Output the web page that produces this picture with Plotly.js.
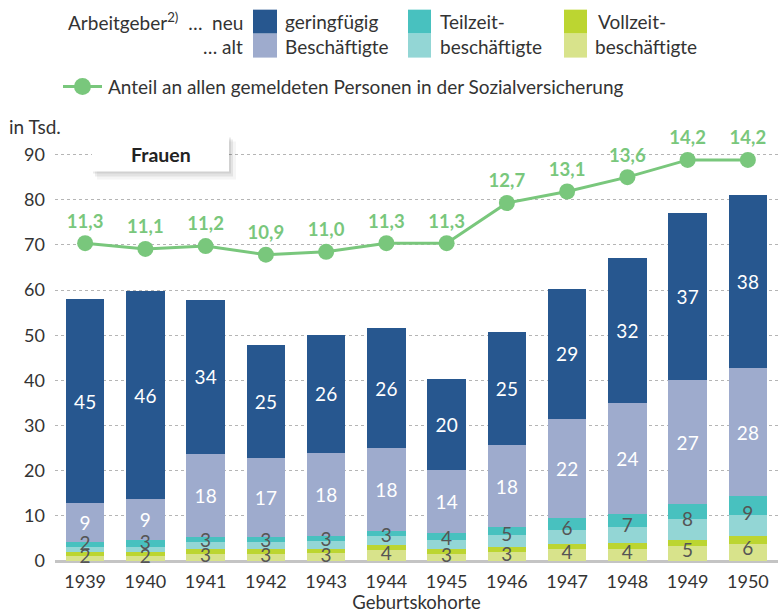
<!DOCTYPE html>
<html><head><meta charset="utf-8">
<script src="https://cdn.plot.ly/plotly-3.0.1.min.js"></script>
<style>body{margin:0;background:#fff}#chart{width:778px;height:613px}</style>
</head><body><div id="chart"></div>
<script>
const years = ['1939','1940','1941','1942','1943','1944','1945','1946','1947','1948','1949','1950'];
const vzAlt = [1.2,1.2,1.6,1.6,1.75,2.4,1.6,2.0,2.7,2.65,3.4,3.8];
const vzNeu = [0.9,0.9,1.0,1.0,1.0,1.1,1.0,1.0,1.0,1.3,1.2,1.8];
const tzAlt = [0.9,1.1,1.5,1.5,1.6,2.0,2.1,2.8,3.1,3.55,4.6,4.5];
const tzNeu = [1.3,1.5,1.3,1.2,1.2,1.2,1.5,1.8,2.7,3.0,3.4,4.3];
const gfAlt = [8.5,9.0,18.4,17.4,18.3,18.3,13.9,18.0,21.9,24.4,27.4,28.3];
const gfNeu = [45.2,46.0,33.9,25.1,26.3,26.5,20.1,25.0,28.9,32.3,37.1,38.4];
const vzLabels = ['2','2','3','3','3','4','3','3','4','4','5','6'];
const tzLabels = ['2','3','3','3','3','3','4','5','6','7','8','9'];
const gfAltLabels = ['9','9','18','17','18','18','14','18','22','24','27','28'];
const gfNeuLabels = ['45','46','34','25','26','26','20','25','29','32','37','38'];
const share = [11.3,11.1,11.2,10.9,11.0,11.3,11.3,12.7,13.1,13.6,14.2,14.2];

const C = {gfNeu:'#27578f', gfAlt:'#9eabcd', tzNeu:'#48c1bf', tzAlt:'#93d6d5', vzNeu:'#bcd531', vzAlt:'#d8e38b', line:'#79c77c'};
const FONT = 'Lato, "Open Sans", sans-serif';

// plot-area geometry helpers (layout only)
const L = 55, R = 778, T = 140.5, B = 561;
const px = x => (x - L) / (R - L);
const py = y => (B - y) / (B - T);

function bar(vals, color, name, text, tcolor){
  const t = {type:'bar', x:years, y:vals, name:name, marker:{color:color, line:{width:0}}, hoverinfo:'skip', showlegend:false};
  if (text){ t.text = text; t.textposition='inside'; t.insidetextanchor='middle'; t.textangle=0; t.textfont={color:tcolor, size:19, family:FONT}; t.constraintext='none'; }
  else { t.textposition='none'; }
  return t;
}
const vzTot = vzAlt.map((v,i)=>v+vzNeu[i]);
const tzTot = tzAlt.map((v,i)=>v+tzNeu[i]);
const vzMid = vzTot.map(v=>v/2 - 0.45);
const tzMid = tzTot.map((v,i)=>vzTot[i]+v/2 + 0.2);

const traces = [
  bar(vzAlt, C.vzAlt, 'VZ alt'),
  bar(vzNeu, C.vzNeu, 'VZ neu'),
  bar(tzAlt, C.tzAlt, 'TZ alt'),
  bar(tzNeu, C.tzNeu, 'TZ neu'),
  bar(gfAlt, C.gfAlt, 'GF alt', gfAltLabels, '#ffffff'),
  bar(gfNeu, C.gfNeu, 'GF neu', gfNeuLabels, '#ffffff'),
  {type:'scatter', mode:'text', x:years, y:vzMid, text:vzLabels, textposition:'middle center', cliponaxis:false, textfont:{color:'#555555', size:19, family:FONT}, hoverinfo:'skip', showlegend:false},
  {type:'scatter', mode:'text', x:years, y:tzMid, text:tzLabels, textposition:'middle center', cliponaxis:false, textfont:{color:'#555555', size:19, family:FONT}, hoverinfo:'skip', showlegend:false},
  {type:'scatter', mode:'lines+markers+text', x:years, y:share, yaxis:'y2', cliponaxis:false,
   line:{color:C.line, width:3}, marker:{color:C.line, size:16},
   texttemplate:'%{y:.1f}', textposition:'top center',
   textfont:{color:C.line, size:18.5, family:FONT, weight:'bold'}, hoverinfo:'skip', showlegend:false}
];

const ann = [];
const shapes = [];
function txt(x, y, s, opts){
  ann.push(Object.assign({xref:'paper', yref:'paper', x:px(x), y:py(y), text:s, showarrow:false, xanchor:'left', yanchor:'middle', font:{size:19, color:'#333333', family:FONT}}, opts||{}));
}
function rect(x0,y0,x1,y1,color,extra){
  shapes.push(Object.assign({type:'rect', xref:'paper', yref:'paper', x0:px(x0), x1:px(x1), y0:py(y1), y1:py(y0), fillcolor:color, line:{width:0}, layer:'above'}, extra||{}));
}
// legend
txt(245, 21, 'Arbeitgeber<sup>2)</sup>  …  neu', {xanchor:'right'});
txt(245, 46, '… alt', {xanchor:'right'});
rect(253, 9, 277, 33, C.gfNeu); rect(253, 33, 277, 57, C.gfAlt);
txt(283, 21, 'geringfügig'); txt(283, 46, 'Beschäftigte');
rect(408, 9, 431, 33, C.tzNeu); rect(408, 33, 431, 57, C.tzAlt);
txt(438, 21, 'Teilzeit-'); txt(438, 46, 'beschäftigte');
rect(564, 9, 587, 33, C.vzNeu); rect(564, 33, 587, 57, C.vzAlt);
txt(596, 21, 'Vollzeit-'); txt(593, 46, 'beschäftigte');
shapes.push({type:'line', xref:'paper', yref:'paper', x0:px(63), x1:px(102), y0:py(86), y1:py(86), line:{color:C.line, width:3}, layer:'above'});
shapes.push({type:'circle', xref:'paper', yref:'paper', x0:px(74), x1:px(91), y0:py(94.5), y1:py(77.5), fillcolor:C.line, line:{width:0}, layer:'above'});
txt(106, 86, 'Anteil an allen gemeldeten Personen in der Sozialversicherung');
// unit label
txt(7, 126, 'in Tsd.');
// Frauen box with shadow
rect(97, 141, 236, 179, 'rgba(0,0,0,0.04)');
rect(95, 139, 233, 176, 'rgba(0,0,0,0.07)');
rect(93, 137, 231, 173, 'rgba(0,0,0,0.08)');
rect(92, 136, 229, 171, '#ffffff');
ann.push({xref:'paper', yref:'paper', x:px(160.5), y:py(154), text:'<b>Frauen</b>', showarrow:false, xanchor:'center', yanchor:'middle', font:{size:19.5, color:'#222222', family:FONT}});

const yMax = 93;
const layout = {
  width:778, height:613,
  margin:{l:L, r:778-R, t:T, b:613-B},
  paper_bgcolor:'#ffffff', plot_bgcolor:'#ffffff',
  barmode:'stack', bargap:0.36,
  separators:',.',
  font:{family:FONT, size:18, color:'#333333'},
  xaxis:{type:'category', range:[-0.5, 11.5], autorange:false, automargin:false, tickfont:{size:18, color:'#333333'}, ticks:'', ticklabelstandoff:8,
         showgrid:false, showline:false, zeroline:false,
         title:{text:'Geburtskohorte', font:{size:18.5, color:'#333333'}, standoff:2}, fixedrange:true},
  yaxis:{range:[0, yMax], autorange:false, automargin:false, tickvals:[0,10,20,30,40,50,60,70,80,90], tickfont:{size:18, color:'#333333'},
         showgrid:true, gridcolor:'#b5b5b5', griddash:'dot', gridwidth:1,
         zeroline:true, zerolinecolor:'#c4c4c4', zerolinewidth:3, ticks:'', ticklabelstandoff:9, showline:false},
  yaxis2:{overlaying:'y', range:[1.5/6.36, (yMax+1.5)/6.36], autorange:false, visible:false, showgrid:false, zeroline:false},
  annotations:ann, shapes:shapes, showlegend:false
};
Plotly.newPlot('chart', traces, layout, {staticPlot:true, displayModeBar:false});
</script></body></html>
